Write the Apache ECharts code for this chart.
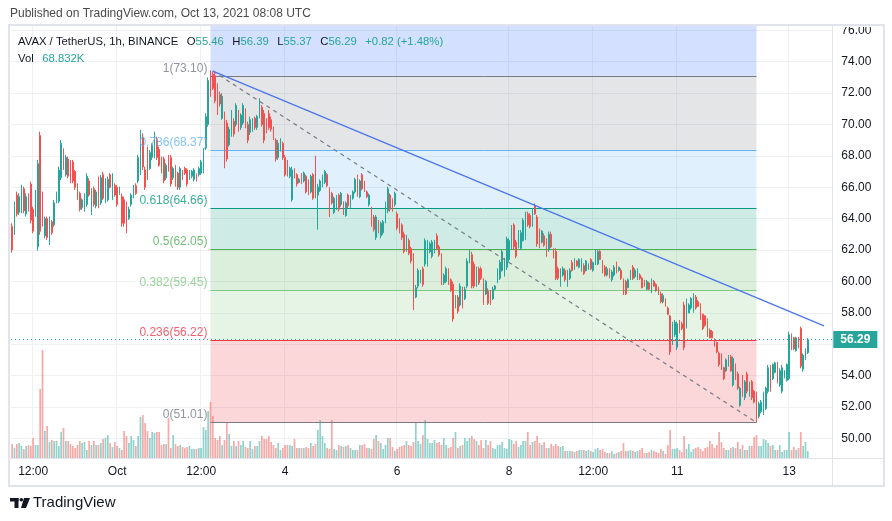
<!DOCTYPE html>
<html><head><meta charset="utf-8">
<script src="https://cdn.jsdelivr.net/npm/echarts@6/dist/echarts.min.js"></script>
<style>html,body{margin:0;padding:0;background:#fff}#c{width:892px;height:521px}</style>
</head><body><div id="c"></div>
<script>
// ---- data (AVAX/USDT 1h) ----
const opens = [
63.5,63.1,65.5,64.4,64.5,65.9,64.3,65.4,66.2,64.6,
64.3,62.2,69.3,65.5,62.9,64.0,62.5,63.8,63.6,65.1,
65.1,66.6,68.3,66.8,67.8,67.6,67.6,67.0,66.1,65.6,
64.7,64.6,64.9,66.4,64.4,65.9,64.8,66.5,65.0,66.8,
65.1,65.2,66.8,65.3,66.1,66.0,65.6,65.4,65.2,64.9,
64.0,64.9,65.4,66.1,66.4,66.9,69.2,67.1,68.4,67.2,
67.9,68.0,69.0,68.4,67.8,67.8,66.6,67.9,67.9,66.6,
67.3,66.9,66.0,67.0,67.2,67.1,66.6,66.7,66.5,66.8,
66.8,66.9,67.0,68.5,70.0,73.2,73.2,73.1,72.4,71.9,
70.4,70.6,70.1,68.7,69.4,70.2,70.0,70.7,69.8,70.1,
70.9,70.0,69.5,69.7,70.4,69.8,70.5,71.1,70.7,70.2,
70.7,70.3,69.7,69.0,67.9,68.4,68.8,67.9,67.6,66.7,
65.2,67.1,66.8,66.3,66.8,66.4,66.7,66.4,65.7,66.8,
67.8,65.5,65.8,66.1,66.3,66.8,65.9,65.6,64.4,64.6,
65.5,64.9,65.0,64.2,65.5,64.8,65.3,65.7,66.6,65.4,
66.8,66.3,65.7,64.9,64.6,64.1,62.8,63.8,62.9,63.1,
63.8,64.5,65.5,65.2,64.9,64.3,63.9,63.6,63.0,62.0,
62.6,62.1,61.6,59.0,59.7,60.0,60.8,61.1,61.1,61.9,
61.6,61.9,62.9,62.2,61.6,59.9,60.0,60.7,60.1,59.8,
58.4,59.0,58.5,59.5,58.9,59.7,61.3,61.7,61.1,59.8,
60.8,60.8,60.0,59.2,59.4,59.3,58.9,59.5,59.9,60.2,
60.7,60.4,60.9,61.4,62.1,63.6,62.5,62.2,62.1,62.6,
62.8,64.3,64.2,63.6,64.8,64.1,63.3,62.5,62.9,62.6,
62.0,63.0,62.0,61.9,60.8,59.8,60.4,60.7,59.8,60.2,
61.2,60.8,61.3,60.9,60.7,61.0,60.7,60.8,61.4,60.7,
61.1,61.1,61.9,61.3,60.9,60.4,60.7,60.1,60.4,61.1,
60.7,60.7,60.1,60.0,59.6,60.2,60.9,60.3,60.2,60.4,
60.2,60.0,59.5,59.9,59.3,60.0,59.8,59.6,59.2,58.7,
58.8,58.3,57.8,56.0,56.6,55.8,57.4,57.3,58.5,57.1,
58.0,58.3,58.1,59.0,58.7,58.5,57.9,57.8,57.5,56.9,
56.8,56.3,56.1,55.4,55.3,54.5,54.3,54.6,55.2,53.4,
54.7,54.1,52.1,53.9,52.6,54.1,52.8,53.6,53.0,52.9,
51.4,51.7,51.6,51.9,53.0,54.5,53.8,54.2,54.8,53.4,
53.0,53.9,53.7,53.8,56.6,56.4,55.6,56.4,57.0,54.4,
55.1,55.46];
const closes = [
62.0,64.9,64.3,65.4,66.0,64.5,65.4,64.6,63.9,63.2,
65.6,67.5,63.2,63.7,64.0,62.8,64.0,63.1,65.0,65.6,
67.1,68.8,67.2,67.9,66.7,66.4,66.4,66.0,65.3,64.6,
65.2,65.5,66.7,65.5,65.8,64.9,65.7,64.8,66.6,65.3,
66.4,66.5,66.0,66.7,65.5,64.9,65.9,63.7,63.7,63.2,
64.6,65.5,66.0,65.6,67.9,69.4,67.3,66.0,66.6,68.2,
68.7,69.3,67.9,67.4,67.0,66.4,67.4,67.1,66.2,67.2,
66.2,66.0,67.2,66.6,66.9,66.2,67.0,67.0,67.1,66.5,
67.2,67.6,68.3,70.5,72.8,71.9,72.3,71.5,70.8,71.3,
71.8,67.4,67.8,69.7,70.7,69.4,71.2,69.7,70.6,71.2,
69.9,69.0,70.3,70.2,69.8,70.5,71.5,70.0,69.0,69.6,
69.8,69.7,69.1,67.8,68.8,69.0,67.9,66.8,66.8,67.2,
67.1,66.7,66.2,66.5,66.3,66.9,65.7,65.6,66.7,65.3,
65.5,66.0,66.4,66.7,67.0,66.1,64.3,65.0,65.3,65.4,
64.6,65.6,64.3,65.0,64.8,65.4,65.7,66.5,65.5,66.4,
65.9,65.8,65.4,65.5,63.6,63.3,64.1,63.2,63.7,63.8,
64.9,65.9,64.6,64.6,65.6,63.4,63.2,62.8,61.9,62.8,
61.8,61.3,58.4,59.6,60.7,60.6,59.8,62.6,62.5,62.4,
62.5,62.5,62.1,61.7,59.9,60.4,60.8,59.9,59.4,57.6,
59.0,58.1,59.7,58.4,59.5,61.3,61.9,59.7,59.7,60.8,
59.9,60.2,58.6,60.0,58.6,58.6,59.5,59.7,60.7,61.2,
61.9,61.4,62.7,62.6,63.5,62.2,61.6,63.1,63.1,63.9,
64.3,63.6,63.5,64.5,64.3,62.4,62.2,63.2,62.3,61.7,
63.0,62.2,61.6,60.2,60.2,60.7,60.8,60.1,60.6,60.7,
60.7,61.4,61.0,61.4,61.4,60.5,61.3,61.1,60.8,61.2,
61.9,61.9,61.4,60.6,60.4,60.8,60.3,60.6,60.9,60.6,
60.9,60.2,59.2,59.2,60.1,60.6,60.2,60.7,60.7,60.2,
59.6,59.7,60.0,59.5,60.1,59.7,59.4,59.2,58.7,59.1,
58.5,57.9,55.5,57.3,57.4,57.3,56.8,57.0,55.8,58.8,
58.5,58.9,59.1,58.3,58.4,57.6,57.0,57.2,56.6,56.4,
56.4,55.9,55.5,54.7,54.4,53.8,55.0,55.2,54.3,55.1,
53.8,53.2,53.2,52.8,53.6,53.0,53.5,52.6,52.3,51.2,
52.2,52.3,52.9,53.2,54.5,53.1,54.7,54.8,53.6,54.3,
54.5,54.3,54.7,56.6,55.7,55.7,56.4,55.8,54.6,55.3,
55.6,56.29];
const highs = [
63.70,65.08,65.72,65.61,66.15,66.04,65.61,65.61,66.36,64.76,
65.83,67.74,69.54,65.72,64.13,64.13,64.13,63.91,65.19,65.72,
67.31,69.01,68.48,68.06,67.95,67.74,67.74,67.10,66.25,65.72,
65.30,65.61,66.89,66.57,65.93,66.04,65.83,66.68,66.78,66.99,
66.57,66.68,66.89,66.89,66.25,66.15,66.04,65.61,65.40,65.08,
64.76,65.61,66.15,66.25,68.06,69.65,69.44,67.31,68.59,68.37,
68.80,69.54,69.22,68.59,67.95,67.95,67.53,68.06,68.06,67.31,
67.42,66.99,67.31,67.10,67.31,67.21,67.10,67.10,67.21,66.89,
67.31,67.74,68.48,70.71,73.00,73.45,73.37,73.26,72.62,72.09,
71.99,70.82,70.29,69.86,70.92,70.39,71.35,70.92,70.71,71.35,
71.03,70.18,70.50,70.39,70.50,70.61,71.67,71.24,70.92,70.39,
70.92,70.50,69.86,69.12,69.01,69.12,68.91,68.06,67.74,67.31,
67.31,67.21,66.89,66.60,66.90,67.00,66.80,66.50,66.80,66.90,
68.00,66.20,66.50,66.80,67.10,66.90,66.00,65.70,65.40,65.50,
65.60,65.70,65.10,65.10,65.60,65.50,65.80,66.60,66.80,66.50,
66.90,66.40,65.80,65.60,64.76,64.23,64.23,63.91,63.81,63.91,
65.08,66.04,65.61,65.29,65.72,64.44,64.02,63.70,63.17,62.96,
62.74,62.21,61.79,59.77,60.83,60.73,60.94,62.74,62.64,62.53,
62.64,62.64,63.06,62.32,61.79,60.51,60.94,60.83,60.19,59.98,
59.13,59.13,59.88,59.66,59.66,61.47,62.00,61.89,61.26,60.94,
60.94,60.94,60.19,60.09,59.56,59.45,59.66,59.77,60.83,61.36,
62.00,61.50,62.85,62.74,63.59,63.70,62.64,63.27,63.27,64.02,
64.44,64.44,64.34,64.65,64.97,64.23,63.38,63.27,63.06,62.74,
63.17,63.17,62.11,62.11,60.94,60.83,60.94,60.83,60.73,60.83,
61.36,61.47,61.36,61.47,61.47,61.15,61.36,61.15,61.47,61.26,
62.00,62.00,62.00,61.36,61.04,60.94,60.83,60.73,61.04,61.26,
60.94,60.83,60.19,60.09,60.19,60.73,61.04,60.83,60.83,60.51,
60.30,60.09,60.09,59.98,60.19,60.09,59.88,59.66,59.34,59.24,
58.92,58.39,57.86,57.43,57.54,57.43,57.54,57.43,58.70,58.90,
58.60,59.00,59.24,59.13,58.81,58.60,57.96,57.85,57.64,57.00,
56.90,56.37,56.16,55.52,55.41,54.56,55.09,55.31,55.31,55.20,
54.77,54.24,53.29,54.03,53.71,54.24,53.61,53.71,53.08,52.97,
52.33,52.44,52.97,53.29,54.67,54.67,54.77,54.88,54.88,54.46,
54.67,54.35,54.77,56.79,56.69,56.47,56.47,56.47,57.11,55.41,
55.73,56.39];
const lows = [
61.83,62.96,64.13,64.23,64.34,64.34,64.13,64.45,63.70,63.07,
64.13,61.96,62.96,63.49,62.75,62.64,62.32,62.96,63.49,64.98,
64.98,66.46,67.10,66.68,66.57,66.25,66.25,65.83,65.19,64.45,
64.55,64.45,64.76,65.40,64.23,64.76,64.66,64.66,64.87,65.19,
64.98,65.08,65.93,65.19,65.40,64.76,65.51,63.49,63.49,63.07,
63.91,64.76,65.30,65.51,66.25,66.78,67.10,65.83,66.46,67.10,
67.74,67.84,67.74,67.31,66.89,66.25,66.46,66.99,66.04,66.46,
66.04,65.83,65.83,66.46,66.78,66.04,66.46,66.57,66.36,66.36,
66.68,66.78,66.89,68.37,69.86,71.77,72.20,71.35,70.61,71.14,
70.29,67.21,67.63,68.59,69.22,69.22,69.86,69.54,69.65,69.97,
69.76,68.80,69.33,69.54,69.65,69.65,70.39,69.86,68.80,69.44,
69.65,69.54,69.01,67.63,67.74,68.27,67.74,66.68,66.68,66.57,
65.08,66.57,66.04,66.25,66.20,66.30,65.60,65.50,65.60,65.20,
65.30,63.30,65.70,66.00,66.20,66.00,64.10,64.90,64.30,64.55,
64.45,64.76,64.23,64.12,64.65,64.65,65.20,65.60,65.40,65.30,
65.80,65.70,65.30,64.76,63.49,63.17,62.64,63.06,62.74,62.96,
63.70,64.34,64.44,64.44,64.76,63.27,63.06,62.64,61.79,61.89,
61.68,61.15,58.18,58.92,59.56,59.88,59.66,60.94,60.94,61.79,
61.47,61.79,62.00,61.57,59.77,59.77,59.88,59.77,59.34,57.43,
58.28,57.96,58.39,58.28,58.81,59.56,61.15,59.56,59.56,59.66,
59.77,60.09,58.50,59.13,58.50,58.50,58.81,59.45,59.88,60.09,
60.62,60.30,60.73,61.26,62.00,62.00,61.47,62.11,62.00,62.53,
62.64,63.49,63.38,63.49,64.23,62.21,62.11,62.42,62.21,61.57,
61.89,62.11,61.47,60.09,60.09,59.66,60.30,59.98,59.66,60.09,
60.62,60.73,60.94,60.83,60.62,60.41,60.62,60.73,60.73,60.62,
61.04,61.04,61.36,60.51,60.30,60.30,60.19,59.98,60.30,60.51,
60.62,60.09,59.13,59.13,59.56,60.09,60.09,60.19,60.09,60.09,
59.56,59.66,59.45,59.45,59.24,59.66,59.34,59.13,58.60,58.60,
58.39,57.86,55.31,55.94,56.47,55.62,56.69,56.90,55.62,57.00,
57.96,58.20,58.00,58.20,58.39,57.54,56.90,57.11,56.47,56.37,
56.37,55.84,55.41,54.56,54.35,53.71,54.24,54.56,54.24,53.29,
53.71,53.08,52.01,52.65,52.44,52.86,52.65,52.44,52.23,51.01,
51.27,51.59,51.48,51.80,52.86,52.97,53.71,54.14,53.50,53.29,
52.86,53.82,53.61,53.71,55.62,55.62,55.52,55.73,54.46,54.24,
54.99,55.37];
// volume in thousands
const volumes = [
140,100,140,150,120,90,120,130,120,200,
130,130,690,1080,270,320,160,180,170,170,
120,260,300,170,170,140,120,100,130,170,
150,160,80,170,130,170,130,130,150,190,
200,230,150,110,160,120,100,80,270,220,
150,220,180,120,220,410,430,350,270,200,
260,250,260,260,130,140,140,400,100,230,
140,120,130,110,100,110,120,90,90,90,
100,100,310,280,470,560,420,200,180,220,
130,180,350,240,120,170,120,170,130,170,
110,100,170,90,120,120,170,220,190,190,
220,160,130,100,150,80,100,130,130,130,
120,190,100,100,100,100,110,100,150,120,
140,280,380,220,150,100,90,380,90,80,
130,120,110,120,130,100,80,80,80,130,
130,140,100,100,90,190,230,170,150,90,
130,200,200,110,70,90,110,120,130,170,
130,120,160,360,170,140,230,380,190,150,
150,180,150,160,
130,200,130,100,110,200,260,100,120,130,
200,170,200,220,190,170,130,180,100,180,
130,170,100,90,130,130,160,100,90,190,
180,140,170,110,130,170,170,260,130,160,
170,220,150,130,160,100,100,140,120,140,
120,110,120,70,70,70,70,60,70,80,
80,80,70,80,70,60,90,100,80,90,
60,50,50,70,40,50,60,70,150,70,
70,80,70,60,70,80,100,50,50,60,
80,70,60,50,90,70,40,130,280,90,
90,100,80,60,220,90,140,60,90,100,
110,90,70,100,110,170,140,100,130,260,
160,100,80,80,100,110,100,160,90,130,
80,80,120,120,210,230,120,120,190,180,
150,120,130,80,80,130,60,80,80,260,
80,110,80,100,260,120,160,68.832];

const tickIdx = [9, 45, 81, 117, 165, 213, 249, 285, 333];
const tickText = ['12:00', 'Oct', '12:00', '4', '6', '8', '12:00', '11', '13'];

const fibRatios = [1, 0.786, 0.618, 0.5, 0.382, 0.236, 0];
const fibPrices = [73.10, 68.37, 64.66, 62.05, 59.45, 56.22, 51.01];
const fibStartIdx = 85, fibEndIdx = 319;
const trendLine = [[86, 73.40], [348, 57.16]];
const changeText = '+0.82 (+1.48%)';

// ---- styling ----
const FONT = "'Liberation Sans', Arial, sans-serif";
const UP = '#26a69a', DOWN = '#ef5350';
const fibLineColors = ['#787b86', '#64b5f6', '#089981', '#4caf50', '#81c784', '#f23645', '#787b86'];
const fibFill = ['rgba(41,98,255,0.2)', 'rgba(120,123,134,0.2)', 'rgba(100,181,246,0.2)', 'rgba(8,153,129,0.2)',
                 'rgba(76,175,80,0.2)', 'rgba(129,199,132,0.2)', 'rgba(242,54,69,0.2)'];
const NCAT = 352;
const GL = 11, GW = 821.3;
const paneTopPrice = 76.274, paneBotPrice = 48.744;

const cats = [];
for (let i = 0; i < NCAT; i++) cats.push(String(i));
const tickMap = {};
tickIdx.forEach((ix, k) => { tickMap[ix] = tickText[k]; });
const candleData = opens.map((o, i) => [o, closes[i], lows[i], highs[i]]);
const last = opens.length - 1;

const zones = [];
const zoneTops = [paneTopPrice].concat(fibPrices.slice(0, -1));
const zoneBots = fibPrices;
for (let k = 0; k < zoneTops.length; k++) {
  zones.push([{ xAxis: fibStartIdx, yAxis: zoneTops[k], itemStyle: { color: fibFill[k] } },
              { xAxis: fibEndIdx, yAxis: zoneBots[k] }]);
}
const fibLines = fibPrices.map((p, k) => [
  { coord: [fibStartIdx, p], lineStyle: { color: fibLineColors[k], width: 1, type: 'solid' } },
  { coord: [fibEndIdx, p] }
]);

function hiddenCat(gi) {
  return { type: 'category', gridIndex: gi, data: cats, boundaryGap: true,
    axisLine: { show: false }, axisTick: { show: false }, axisLabel: { show: false }, splitLine: { show: false } };
}
const legendStyle = { fontSize: 11.3, fontWeight: 'normal', color: '#131722', lineHeight: 14, fontFamily: FONT,
  rich: { k: { color: '#131722', fontSize: 11.3, lineHeight: 14, fontFamily: FONT },
          v: { color: UP, fontSize: 11.3, lineHeight: 14, fontFamily: FONT },
          g: { width: 8.5, lineHeight: 14 } } };

const chart = echarts.init(document.getElementById('c'), null, { renderer: 'canvas' });
const option = {
  animation: false,
  textStyle: { fontFamily: FONT },
  title: [
    { text: 'Published on TradingView.com, Oct 13, 2021 08:08 UTC', left: 10, top: 7, padding: 0,
      textStyle: { fontSize: 12, fontWeight: 'normal', color: '#4a4a4a', lineHeight: 14, fontFamily: FONT } },
    { text: '{k|AVAX / TetherUS, 1h, BINANCE}{g|}{k|O}{v|' + opens[last].toFixed(2) + '}{g|}{k|H}{v|' + highs[last].toFixed(2) +
            '}{g|}{k|L}{v|' + lows[last].toFixed(2) + '}{g|}{k|C}{v|' + closes[last].toFixed(2) + '}{g|}{v|' + changeText + '}',
      left: 18, top: 35, padding: 0, textStyle: legendStyle },
    { text: '{k|Vol}{g|}{v|' + volumes[last].toFixed(3) + 'K}', left: 18, top: 52, padding: 0, textStyle: legendStyle },
    { text: 'TradingView', left: 33, top: 494, padding: 0,
      textStyle: { fontSize: 15, fontWeight: 'normal', color: '#131722', lineHeight: 18, fontFamily: FONT } }
  ],
  grid: [
    { left: GL, width: GW, top: 30.3, height: 408 },
    { left: GL, width: GW, top: 308, height: 150 },
    { left: GL, width: GW, top: 26, height: 432 }
  ],
  xAxis: [
    hiddenCat(0),
    Object.assign(hiddenCat(1), {
      axisLabel: { show: true, interval: (i) => tickMap[i] !== undefined, formatter: (v, i) => tickMap[i] || '',
                   color: '#131722', fontSize: 12, margin: 8, fontFamily: FONT } }),
    Object.assign(hiddenCat(2), {
      splitLine: { show: true, interval: (i) => tickMap[i] !== undefined, lineStyle: { color: '#eef0f4', width: 1 } } })
  ],
  yAxis: [
    { type: 'value', gridIndex: 0, min: 50, max: 76, interval: 2, position: 'right',
      axisLine: { show: false }, axisTick: { show: false },
      axisLabel: { formatter: (v) => v.toFixed(2), color: '#131722', fontSize: 12, margin: 9, fontFamily: FONT },
      splitLine: { lineStyle: { color: '#eef0f4', width: 1 } } },
    { type: 'value', gridIndex: 1, min: 0, max: 1500, show: false, splitLine: { show: false } },
    { type: 'value', gridIndex: 2, min: paneBotPrice, max: paneTopPrice, show: false, splitLine: { show: false } }
  ],
  series: [
    { name: 'vol', type: 'bar', xAxisIndex: 1, yAxisIndex: 1, data: volumes, barWidth: 1.7, z: 1,
      itemStyle: { color: (p) => closes[p.dataIndex] >= opens[p.dataIndex] ? 'rgba(38,166,154,0.5)' : 'rgba(239,83,80,0.5)' } },
    { name: 'fibDiag', type: 'line', xAxisIndex: 2, yAxisIndex: 2, z: 4,
      data: [[fibStartIdx + 1, trendLine[0][1]], [fibEndIdx, fibPrices[fibPrices.length - 1]]],
      symbol: 'none', lineStyle: { color: '#787b86', width: 1.2, type: [4, 4] },
      markArea: { silent: true, data: zones },
      markLine: { silent: true, symbol: ['none', 'none'], label: { show: false }, data: fibLines, z: 3 } },
    { name: 'price', type: 'candlestick', xAxisIndex: 0, yAxisIndex: 0, data: candleData, barWidth: 1.4, z: 3,
      itemStyle: { color: UP, color0: DOWN, borderColor: UP, borderColor0: DOWN, borderWidth: 1 },
      markLine: { silent: true, symbol: ['none', 'none'], data: [{ yAxis: closes[last] }],
        lineStyle: { color: UP, width: 1, type: [1, 3] },
        label: { position: 'end', distance: 1, formatter: (p) => p.value.toFixed(2), backgroundColor: UP, color: '#fff',
                 padding: [3, 7, 2, 7], fontSize: 12, fontWeight: 'bold', fontFamily: FONT } } },
    { name: 'trend', type: 'line', xAxisIndex: 2, yAxisIndex: 2, z: 5, data: trendLine, symbol: 'none',
      lineStyle: { color: '#4a76f0', width: 1.3 } },
    { name: 'fibLabels', type: 'scatter', xAxisIndex: 2, yAxisIndex: 2, z: 6, symbolSize: 0.1,
      itemStyle: { color: 'transparent' },
      data: fibPrices.map((p, k) => ({ value: [fibStartIdx, p], label: { color: fibLineColors[k] } })),
      label: { show: true, position: 'left', distance: 3, offset: [0, -7.5], fontSize: 12, fontFamily: FONT,
               formatter: (p) => String(fibRatios[p.dataIndex]) + '(' + fibPrices[p.dataIndex].toFixed(2) + ')' } }
  ],
  graphic: [
    { type: 'rect', shape: { x: 833, y: 0, width: 59, height: 27 }, style: { fill: '#fff' }, z: 9 },
    { type: 'rect', shape: { x: 9, y: 25, width: 875, height: 461 }, style: { fill: 'none', stroke: '#e0e3eb', lineWidth: 2 }, z: 10 },
    { type: 'line', shape: { x1: 832.5, y1: 25, x2: 832.5, y2: 486 }, style: { stroke: '#e0e3eb', lineWidth: 1 }, z: 10 },
    { type: 'line', shape: { x1: 9, y1: 458.5, x2: 884, y2: 458.5 }, style: { stroke: '#e0e3eb', lineWidth: 1 }, z: 10 },
    { type: 'group', z: 10, children: [
      { type: 'rect', shape: { x: 10, y: 498, width: 8.5, height: 3.5 }, style: { fill: '#131722' } },
      { type: 'rect', shape: { x: 14.5, y: 498, width: 4, height: 10 }, style: { fill: '#131722' } },
      { type: 'circle', shape: { cx: 21.3, cy: 499.8, r: 1.8 }, style: { fill: '#131722' } },
      { type: 'polygon', shape: { points: [[24, 498], [30, 498], [26, 508], [21, 508]] }, style: { fill: '#131722' } }
    ] }
  ]
};
chart.setOption(option);
</script>
</body></html>
